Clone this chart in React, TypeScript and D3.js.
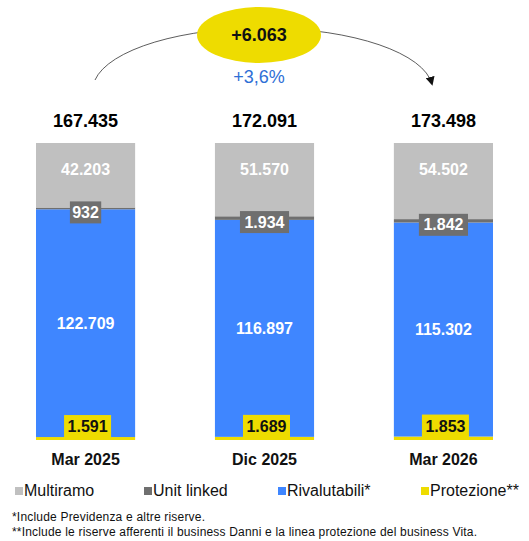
import * as d3 from 'd3';

const categories = ['Mar 2025', 'Dic 2025', 'Mar 2026'];
const multiramo = [42203, 51570, 54502];
const unitLinked = [932, 1934, 1842];
const rivalutabili = [122709, 116897, 115302];
const protezione = [1591, 1689, 1853];
const totals = [167435, 172091, 173498];
const deltaLabel = '+6.063';
const deltaPct = '+3,6%';

const legendItems = [
  { key: 'multiramo', label: 'Multiramo', color: '#C0C0C0', x: 15 },
  { key: 'unitLinked', label: 'Unit linked', color: '#6F6F6F', x: 144 },
  { key: 'rivalutabili', label: 'Rivalutabili*', color: '#3F86FF', x: 278 },
  { key: 'protezione', label: 'Protezione**', color: '#EEDC00', x: 421 },
];

const footnotes = [
  '*Include Previdenza e altre riserve.',
  '**Include le riserve afferenti il business Danni e la linea protezione del business Vita.',
];
const footnoteWidths = [193, 465];

const width = 529;
const height = 541;
const font = '"Liberation Sans", Arial, sans-serif';
const fmt = (v: number) => d3.format(',')(v).replace(/,/g, '.');

const rows = categories.map((c, i) => ({
  cat: c,
  protezione: protezione[i],
  rivalutabili: rivalutabili[i],
  unitLinked: unitLinked[i],
  multiramo: multiramo[i],
}));

const colors: Record<string, string> = {
  multiramo: '#C0C0C0',
  unitLinked: '#6F6F6F',
  rivalutabili: '#3F86FF',
  protezione: '#EEDC00',
};

export default function App() {
  const plotTop = 143;
  const plotBottom = 440;

  const x = d3.scaleBand().domain(categories).range([36, 493]).paddingInner(0.446).paddingOuter(0);
  // axis capped at 160.000, taller bars are cut at the top
  const y = d3.scaleLinear().domain([0, 160000]).range([plotBottom, plotTop]);

  const keys = ['protezione', 'rivalutabili', 'unitLinked', 'multiramo'];
  const series = d3.stack<any>().keys(keys)(rows);
  const cy = (a: number, b: number) => (Math.max(y(a), plotTop) + Math.max(y(b), plotTop)) / 2;

  const arc = `M95,80 A170,62 0 0 1 432,84`;

  return (
    <svg width={width} height={height} style={{ position: 'absolute', left: 0, top: 0, background: '#fff' }} fontFamily={font}>
      <defs>
        <clipPath id="plot">
          <rect x={0} y={plotTop} width={width} height={plotBottom - plotTop} />
        </clipPath>
        <marker id="arrow" viewBox="0 0 10 10" refX="8" refY="5" markerWidth="9" markerHeight="9" orient="auto" markerUnits="userSpaceOnUse">
          <path d="M0,0 L10,5 L0,10 z" fill="#111" />
        </marker>
      </defs>

      {/* growth annotation */}
      <path d={arc} fill="none" stroke="#333" strokeWidth={0.8} markerEnd="url(#arrow)" />
      <ellipse cx={259} cy={35} rx={62} ry={28} fill="#EEDC00" />
      <text x={259} y={35} textAnchor="middle" dominantBaseline="central" fontSize={18} fontWeight="bold" fill="#111">{deltaLabel}</text>
      <text x={259} y={77} textAnchor="middle" dominantBaseline="central" fontSize={18} fill="#2F6FD6">{deltaPct}</text>

      {/* bars */}
      <g clipPath="url(#plot)">
        {series.map((s) => (
          <g key={s.key} fill={colors[s.key]}>
            {s.map((d, i) => (
              <rect key={i} x={x(categories[i])} y={y(d[1])} width={x.bandwidth()} height={y(d[0]) - y(d[1])} />
            ))}
          </g>
        ))}
      </g>

      {categories.map((c, i) => {
        const cx = (x(c) as number) + x.bandwidth() / 2;
        const s = series.map((ser) => ser[i]);
        const [pr, ri, ul] = s;
        const ulText = fmt(unitLinked[i]);
        const ulW = ulText.length * 8.9 - 4.4 + 9;
        const prText = fmt(protezione[i]);
        const prW = 47;
        const ulCy = cy(ul[0], ul[1]) + 4;
        return (
          <g key={c}>
            <text x={cx} y={127} textAnchor="middle" fontSize={18} fontWeight="bold" fill="#000">{fmt(totals[i])}</text>
            <text x={cx} y={169} textAnchor="middle" dominantBaseline="central" fontSize={16} fontWeight="bold" fill="#fff">{fmt(multiramo[i])}</text>
            <text x={cx} y={cy(ri[0], ri[1])} textAnchor="middle" dominantBaseline="central" fontSize={16} fontWeight="bold" fill="#fff">{fmt(rivalutabili[i])}</text>
            <rect x={cx - ulW / 2} y={ulCy - 11} width={ulW} height={22} fill="#6F6F6F" />
            <text x={cx} y={ulCy} textAnchor="middle" dominantBaseline="central" fontSize={16} fontWeight="bold" fill="#fff">{ulText}</text>
            <rect x={cx + 2 - prW / 2} y={y(pr[1]) - 22} width={prW} height={23} fill="#EEDC00" />
            <text x={cx + 2} y={y(pr[1]) - 10.5} textAnchor="middle" dominantBaseline="central" fontSize={16} fontWeight="bold" fill="#111">{prText}</text>
            <text x={cx} y={465} textAnchor="middle" fontSize={16} fontWeight="bold" fill="#111">{c}</text>
          </g>
        );
      })}

      {/* legend */}
      {legendItems.map((l) => (
        <g key={l.key}>
          <rect x={l.x} y={487} width={8} height={8} fill={l.color} />
          <text x={l.x + 9} y={496} fontSize={16} fill="#111">{l.label}</text>
        </g>
      ))}

      {footnotes.map((f, i) => (
        <text key={i} x={12} y={521 + i * 15} fontSize={12} fill="#111" textLength={footnoteWidths[i]} lengthAdjust="spacing">{f}</text>
      ))}
    </svg>
  );
}
